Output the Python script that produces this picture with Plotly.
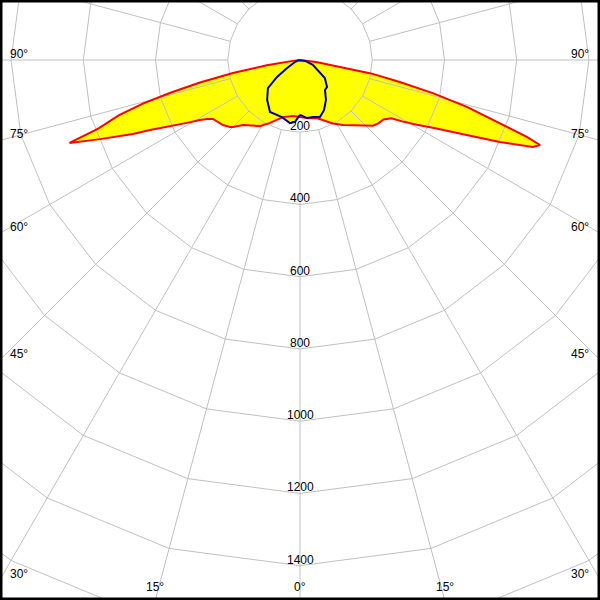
import numpy as np
import plotly.graph_objects as go

# ---------------- data ----------------
# C0 plane (right half, red), gamma in degrees from nadir, intensity in cd
c0_gamma = [0, 8, 16, 22, 27.5, 33.5, 38, 45, 48, 51, 54.5, 57.5, 59, 61, 63, 65.8, 67.7, 69.5, 70.5,
            71.3, 72.5, 74.3, 76, 77.6, 79.3, 80.5, 83, 90]
c0_int = [158, 163, 167, 180, 198, 216, 229, 258, 272, 279, 284, 300, 330, 370, 413, 506, 598, 688, 705,
          663, 580, 480, 379, 283, 200, 120, 45, 0]
# C180 plane (left half, red)
c180_gamma = [0, 7, 16.6, 19, 25.5, 31.2, 41.2, 45, 46.3, 49.8, 51.8, 55.9, 57.6, 59, 60.9, 63.3, 65, 66.1,
              68.4, 70.2, 71.2, 73, 74.5, 75.8, 77.3, 79, 81, 83, 90]
c180_int = [158, 156, 165, 170, 193, 214, 239, 262, 268, 279, 282, 291, 305, 323, 358, 412, 458, 506,
            595, 678, 590, 525, 450, 370, 284, 189, 93, 20, 0]
# C90 plane (right half, blue)
c90_gamma = [0, 7, 13, 19.3, 25.6, 33, 39.8, 45, 54, 61, 69, 80, 90]
c90_int = [152, 162, 162, 167, 154, 132, 108, 106, 85, 57, 38, 15, 0]
# C270 plane (left half, blue)
c270_gamma = [0, 4.6, 9, 17.5, 30, 39.5, 48.8, 53.5, 58, 68, 80, 90]
c270_int = [152, 172, 177, 166, 166, 143, 118, 79, 42, 15, 5, 0]

grid_radii = [200, 400, 600, 800, 1000, 1200, 1400, 1600]
radial_labels = ["200", "400", "600", "800", "1000", "1200", "1400"]
side_angles = [90, 75, 60, 45, 30]
bottom_angles = [15, 0, 15]

# ---------------- geometry helpers ----------------
S = 0.3612          # px per cd
CX, CY = 300, 60    # pole position in px
X_HALF = CX / S
Y_TOP = CY / S
Y_BOT = -(600 - CY) / S


def to_xy(gamma, inten, side):
    g = np.radians(np.asarray(gamma, float))
    r = np.asarray(inten, float)
    return side * r * np.sin(g), -r * np.cos(g)


def py(ypx):
    return (CY - ypx) / S


xr, yr = to_xy(c0_gamma, c0_int, 1)
xl, yl = to_xy(c180_gamma, c180_int, -1)
red_x = np.concatenate([xr, xl[::-1]])
red_y = np.concatenate([yr, yl[::-1]])

xb1, yb1 = to_xy(c90_gamma, c90_int, 1)
xb2, yb2 = to_xy(c270_gamma, c270_int, -1)
blue_x = np.concatenate([xb1, xb2[::-1]])
blue_y = np.concatenate([yb1, yb2[::-1]])

fig = go.Figure()

fig.add_trace(go.Scatter(x=red_x, y=red_y, fill="toself", fillcolor="#ffff00",
                         line=dict(width=0), mode="lines", hoverinfo="skip"))
fig.add_trace(go.Scatter(x=blue_x, y=blue_y, fill="toself", fillcolor="#ffff00",
                         line=dict(width=0), mode="lines", hoverinfo="skip"))

# grid circles (polygons with vertices on the 15 deg rays)
gx, gy = [], []
ang = np.radians(np.arange(0, 361, 15))
for r in grid_radii:
    gx += list(r * np.sin(ang)) + [None]
    gy += list(-r * np.cos(ang)) + [None]
# radial rays every 15 deg starting at the 200 circle
for a in np.arange(-180, 181, 15):
    t = np.radians(a)
    gx += [200 * np.sin(t), 2200 * np.sin(t), None]
    gy += [-200 * np.cos(t), -2200 * np.cos(t), None]
fig.add_trace(go.Scatter(x=gx, y=gy, mode="lines", line=dict(color="#c0c0c0", width=1),
                         hoverinfo="skip"))

fig.add_trace(go.Scatter(x=red_x, y=red_y, mode="lines", line=dict(color="#ff0000", width=2),
                         hoverinfo="skip"))
fig.add_trace(go.Scatter(x=blue_x, y=blue_y, mode="lines", line=dict(color="#0000b0", width=2),
                         hoverinfo="skip"))

font = dict(family="Liberation Sans, Arial, sans-serif", size=12, color="black")
ann = []
for txt, r in zip(radial_labels, grid_radii):
    ann.append(dict(x=0, y=-r, xref="x", yref="y", text=txt, showarrow=False, font=font,
                    xanchor="center", yanchor="middle", yshift=6))
for a in side_angles:
    yv = -X_HALF / np.tan(np.radians(a)) if a != 90 else 0.0
    ann.append(dict(x=0, y=yv, xref="paper", yref="y", text=f"{a}°", showarrow=False, font=font,
                    xanchor="left", yanchor="middle", xshift=8, yshift=6))
    ann.append(dict(x=1, y=yv, xref="paper", yref="y", text=f"{a}°", showarrow=False, font=font,
                    xanchor="right", yanchor="middle", xshift=-9, yshift=6))
for i, a in enumerate(bottom_angles):
    sgn = [-1, 0, 1][i]
    xv = sgn * (-Y_BOT) * np.tan(np.radians(a))
    ann.append(dict(x=xv, y=py(587), xref="x", yref="y", text=f"{a}°", showarrow=False, font=font,
                    xanchor="center", yanchor="middle"))

fig.update_layout(
    width=600, height=600,
    margin=dict(l=0, r=0, t=0, b=0),
    paper_bgcolor="white", plot_bgcolor="white",
    showlegend=False,
    xaxis=dict(range=[-X_HALF, X_HALF], visible=False, fixedrange=True),
    yaxis=dict(range=[Y_BOT, Y_TOP], visible=False, fixedrange=True),
    annotations=ann,
    shapes=[dict(type="rect", xref="paper", yref="paper", x0=0, y0=0, x1=1, y1=1,
                 line=dict(color="black", width=5))],
)

fig.write_html("out.html", config={"displayModeBar": False},
               post_script="document.body.style.margin='0';document.body.style.padding='0';")
